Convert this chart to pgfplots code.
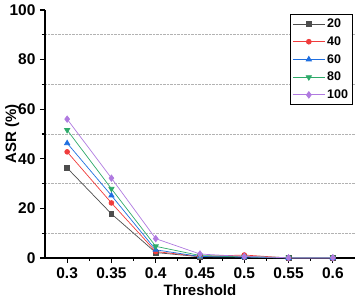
\documentclass[border=0pt]{standalone}
\usepackage{fontspec}
\setmainfont{Liberation Sans}
\usepackage{pgfplots}
\pgfplotsset{compat=1.18}
\definecolor{cA}{HTML}{4D4D4D}
\definecolor{cB}{HTML}{F03C3C}
\definecolor{cC}{HTML}{1F6FE0}
\definecolor{cD}{HTML}{2EAA6A}
\definecolor{cE}{HTML}{B07AE0}
\begin{document}
\begin{tikzpicture}
\begin{axis}[
  at={(0,0)}, anchor=south west,
  scale only axis, width=310pt, height=248pt,
  xmin=0.275, xmax=0.625, ymin=0, ymax=100,
  axis x line*=bottom, axis y line*=left,
  axis line style={line width=1.4pt},
  xtick={0.3,0.35,0.4,0.45,0.5,0.55,0.6},
  xticklabels={0.3,0.35,0.4,0.45,0.5,0.55,0.6},
  ytick={0,20,40,60,80,100},
  minor x tick num=1, minor y tick num=1,
  tick align=outside,
  major tick length=5pt, minor tick length=3pt,
  tick style={line width=1.2pt, black},
  yminorgrids=true,
  minor grid style={gray!60, densely dotted, line width=0.6pt},
  tick label style={font=\bfseries\fontsize{15.5}{17}\selectfont},
  /pgf/number format/assume math mode=true,
  xlabel={\bfseries\fontsize{15}{17}\selectfont Threshold},
  ylabel={\bfseries\fontsize{15}{17}\selectfont ASR (\%)},
  xlabel style={at={(axis description cs:0.5,-0.129)}, anchor=center},
  ylabel style={at={(axis description cs:-0.106,0.5)}, anchor=center},
  xticklabel style={yshift=-1pt},
  yticklabel style={xshift=-1pt},
  legend style={at={(0.9935,0.984)}, anchor=north east, draw=black, line width=0.8pt,
    font=\bfseries\fontsize{12.5}{14}\selectfont, row sep=3.5pt, inner sep=2.5pt,
    cells={anchor=west}},
  legend image post style={line width=0.8pt},
  legend image code/.code={\draw[#1] (0cm,0cm) -- (32pt,0cm); \draw[#1, mark repeat=2] plot coordinates {(16pt,0cm)};},
  every axis plot/.append style={line width=0.7pt, mark size=2.6pt},
  clip=false,
]
\addplot[cA, mark=square*, mark options={fill=cA, mark size=2.4pt}] coordinates {(0.3,36.3) (0.35,17.8) (0.4,2.2) (0.45,0.5) (0.5,0.5) (0.55,0) (0.6,0)};
\addlegendentry{20}
\addplot[cB, mark=*, mark options={fill=cB, mark size=2.4pt}] coordinates {(0.3,42.8) (0.35,22.2) (0.4,2.6) (0.45,0.6) (0.5,1.2) (0.55,0) (0.6,0)};
\addlegendentry{40}
\addplot[cC, mark=triangle*, mark options={fill=cC, mark size=3pt}] coordinates {(0.3,46.3) (0.35,25.2) (0.4,3.3) (0.45,0.6) (0.5,0.4) (0.55,0) (0.6,0)};
\addlegendentry{60}
\addplot[cD, mark=triangle*, mark options={fill=cD, rotate=180, mark size=3pt}] coordinates {(0.3,51.6) (0.35,27.9) (0.4,4.7) (0.45,1.0) (0.5,0.5) (0.55,0.2) (0.6,0.2)};
\addlegendentry{80}
\addplot[cE, mark=diamond*, mark options={fill=cE, mark size=3.2pt}] coordinates {(0.3,56.0) (0.35,32.2) (0.4,7.8) (0.45,1.6) (0.5,0.6) (0.55,0.1) (0.6,0.1)};
\addlegendentry{100}
\end{axis}
\pgfresetboundingbox
\path (-45pt,-41pt) rectangle (314pt,258pt);
\end{tikzpicture}
\end{document}
